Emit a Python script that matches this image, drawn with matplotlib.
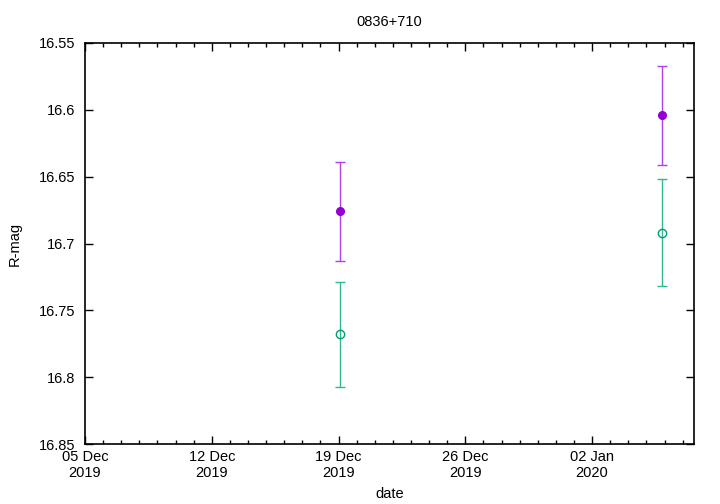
import matplotlib
matplotlib.use("Agg")
import matplotlib.pyplot as plt
import matplotlib.dates as mdates
from datetime import datetime
import numpy as np

plt.rcParams['font.family'] = ['Liberation Sans', 'DejaVu Sans']

title = "0836+710"
dates_a = [datetime(2019, 12, 19, 2, 0), datetime(2020, 1, 5, 21, 0)]
mag_a = [16.676, 16.604]
err_a = [0.037, 0.037]
dates_b = [datetime(2019, 12, 19, 2, 0), datetime(2020, 1, 5, 21, 0)]
mag_b = [16.768, 16.692]
err_b = [0.039, 0.040]
xlim = [datetime(2019, 12, 5), datetime(2020, 1, 7, 15, 0)]
ylim = [16.85, 16.55]
yticks = [16.55, 16.6, 16.65, 16.7, 16.75, 16.8, 16.85]
ytick_labels = ["16.55", "16.6", "16.65", "16.7", "16.75", "16.8", "16.85"]
xticks = [datetime(2019, 12, 5), datetime(2019, 12, 12), datetime(2019, 12, 19),
          datetime(2019, 12, 26), datetime(2020, 1, 2)]
xtick_labels = ["05 Dec\n2019", "12 Dec\n2019", "19 Dec\n2019", "26 Dec\n2019", "02 Jan\n2020"]

fig = plt.figure(figsize=(7.2, 5.04), dpi=100)
ax = fig.add_axes([85/720, 60/504, (694-85)/720, (444-43)/504])

purple = '#9400d3'
green = '#009e73'
ax.errorbar(dates_a, mag_a, yerr=err_a, fmt='o', color=purple, ecolor='#b040e8',
            elinewidth=1, capsize=3.5, capthick=1, markersize=5.5)
ax.errorbar(dates_b, mag_b, yerr=err_b, fmt='o', color=green, ecolor='#30b890',
            markerfacecolor='none', markeredgewidth=1,
            elinewidth=1, capsize=3.5, capthick=1, markersize=6)

ax.set_xlim(xlim)
ax.set_ylim(ylim)
ax.set_yticks(yticks)
ax.set_yticklabels(ytick_labels)
ax.set_xticks(xticks)
ax.set_xticklabels(xtick_labels)
ax.xaxis.set_minor_locator(mdates.DayLocator())

ax.tick_params(which='both', direction='in', top=True, right=True, labelsize=10.5)
ax.tick_params(which='major', length=6, width=1)
ax.tick_params(which='minor', length=3, width=1)
ax.tick_params(axis='x', pad=4)
ax.tick_params(axis='y', pad=7)
for s in ax.spines.values():
    s.set_linewidth(1.2)

ax.set_title(title, fontsize=10.5, pad=12)
ax.set_xlabel("date", fontsize=10.5, labelpad=5)
ax.set_ylabel("R-mag", fontsize=10.5, labelpad=12)

fig.savefig("out.png", dpi=100)
